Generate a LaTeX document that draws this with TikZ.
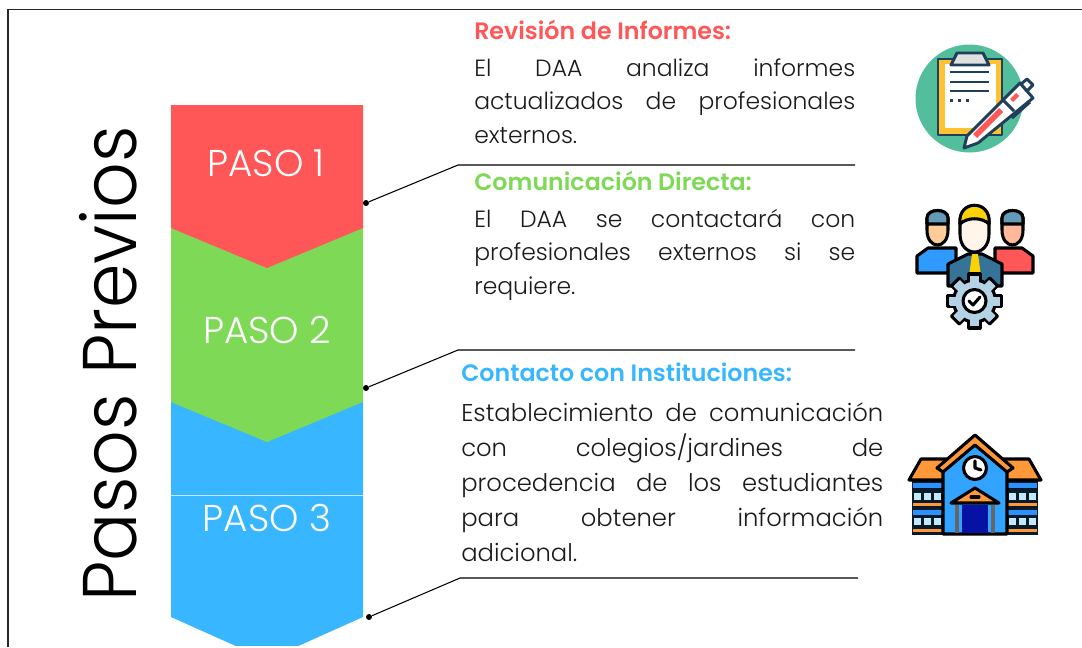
\documentclass[tikz,border=0pt]{standalone}
\usepackage{fontspec}
\setmainfont{Poppins}[BoldFont={* SemiBold}]
\newfontfamily\fina{Poppins Light}
\usepackage{tikz}
\usetikzlibrary{calc}
\definecolor{rojo}{HTML}{FF5757}
\definecolor{verde}{HTML}{7ED957}
\definecolor{azul}{HTML}{38B6FF}
\definecolor{texto}{HTML}{1A1A1A}
\definecolor{marino}{HTML}{1F3F5B}
\definecolor{menta}{HTML}{52BE9B}
\definecolor{naranja}{HTML}{FF9838}
\definecolor{celeste}{HTML}{B4D2E6}
\tikzset{
	paso/.style={text=white, font=\fina\fontsize{28}{30}\selectfont},
	titulo/.style={anchor=north west, inner sep=0pt, font=\fontsize{17.8}{22}\selectfont\bfseries},
	cuerpo/.style={anchor=north west, inner sep=0pt, text=texto, align=justify, font=\fina\fontsize{17.6}{25.2}\selectfont},
	guia/.style={draw=black, line width=0.8pt},
	punto/.style={circle, fill=black, inner sep=0pt, minimum size=4.5pt},
	traza/.style={draw=black, line width=2.3pt, line join=round, line cap=round},
	plano/.style={draw=marino, line width=2.2pt, line join=round},
}
\begin{document}
\begin{tikzpicture}[x=0.75pt, y=-0.75pt]
	\useasboundingbox (0, 0) rectangle (1082, 647);
	\draw[line width=1.4pt, color=black!85] (8, 647)--(8, 9.5)--(1082, 9.5);

	% bloques
	\begin{scope}
		\clip (0, 0) rectangle (1082, 645.5);
		\fill[azul] (171, 400)--(363, 400)--(363, 617)--(267, 660)--(171, 617)--cycle;
	\end{scope}
	\draw[white!70!azul, line width=0.6pt] (171, 495)--(363, 495);
	\fill[verde] (171, 228)--(363, 228)--(363, 402)--(267, 442)--(171, 402)--cycle;
	\fill[rojo] (171, 105)--(363, 105)--(363, 228)--(267, 268)--(171, 228)--cycle;

	\node[paso] (paso1) at (266, 163){PASO 1};
	\node[paso] (paso2) at (267, 330){PASO 2};
	\node[paso] (paso3) at (267, 518){PASO 3};

	\node[rotate=90, xscale=0.94, text=black, font=\fina\fontsize{57}{60}\selectfont] (pasos) at (108, 364){Pasos Previos};

	% guias
	\node[punto] (dot1) at (366, 203){};
	\coordinate (codo1) at (458, 165);
	\coordinate (fin1) at (855, 165);
	\draw[guia] (dot1)--(codo1)--(fin1);
	\node[punto] (dot2) at (366, 388){};
	\coordinate (codo2) at (458, 350);
	\coordinate (fin2) at (855, 350);
	\draw[guia] (dot2)--(codo2)--(fin2);
	\node[punto] (dot3) at (369, 617){};
	\coordinate (codo3) at (460, 578);
	\coordinate (fin3) at (858, 578);
	\draw[guia] (dot3)--(codo3)--(fin3);

	% textos
	\node[titulo, text=rojo] (tit1) at (474, 20){Revisión de Informes:};
	\node[cuerpo, text width=285.75] (txt1) at (474, 58){El DAA analiza informes\linebreak actualizados de profesionales\linebreak externos.};
	\node[titulo, text=verde] (tit2) at (474, 171){Comunicación Directa:};
	\node[cuerpo, text width=285.75] (txt2) at (474, 209){El DAA se contactará con\linebreak profesionales externos si se\linebreak requiere.};
	\node[titulo, text=azul] (tit3) at (461, 363){Contacto con Instituciones:};
	\node[cuerpo, text width=316.5, font=\fina\fontsize{18.2}{26.2}\selectfont] (txt3) at (461, 402.5){Establecimiento de comunicación\linebreak con colegios/jardines de\linebreak procedencia de los estudiantes\linebreak para obtener información\linebreak adicional.};

	% portapapeles
	\fill[menta] (969.5, 98.5) circle (54);
	\fill[orange!60!yellow!80!white] (938, 59) rectangle (1002, 135);
	\fill[white] (945, 64) rectangle (996, 128);
	\draw[plano] (938, 59) rectangle (1002, 135);
	\fill[black!12, plano] (951, 65)--(957, 53)--(983, 53)--(989, 65)--cycle;
	\foreach \y in {72, 82, 91}
		\draw[plano] (950, \y)--(989, \y);
	\foreach \x in {951, 959, 967}
		\fill[marino] (\x-1.5, 98.5) rectangle (\x+1.5, 101.5);
	\fill[white, plano] (964, 148)--(967, 136)--(1020, 83)--(1033, 98)--(978, 143)--cycle;
	\fill[rojo] (973, 134)--(999, 108)--(1003, 112)--(977, 138)--cycle;
	\fill[rojo] (1010, 99)--(1016, 93)--(1019, 96)--(1013, 102)--cycle;
	\draw[plano] (1003, 100)--(1014, 111);
	\draw[plano] (1012, 118)--(1030, 102);
	\fill[white, plano] (1021, 84)--(1027, 79)--(1033, 85)--(1027, 91)--cycle;

	% equipo
	\fill[azul!85!blue, traza] (917, 273)--(917, 256)--(928, 248)--(956, 248)--(956, 273)--cycle;
	\fill[rojo, traza] (995, 248)--(1022, 248)--(1033, 256)--(1033, 273)--(995, 273)--cycle;
	\fill[orange!40!white, traza] (927, 218) .. controls (927, 208) and (948, 208) .. (948, 218)
		-- (948, 230) .. controls (948, 250) and (927, 250) .. (927, 230) -- cycle;
	\fill[red!40!orange!40!white, traza] (1002, 218) .. controls (1002, 208) and (1023, 208) .. (1023, 218)
		-- (1023, 230) .. controls (1023, 250) and (1002, 250) .. (1002, 230) -- cycle;
	\fill[azul!60!black!70!white, traza] (927, 224)--(927, 218) .. controls (927, 208) and (948, 208) .. (948, 218)--(948, 224)--cycle;
	\fill[azul!60!black!70!white, traza] (1002, 224)--(1002, 218) .. controls (1002, 208) and (1023, 208) .. (1023, 218)--(1023, 224)--cycle;
	\fill[azul!55!black!90!white, traza] (948, 286)--(948, 264)--(968, 254)--(982, 254)--(1002, 264)--(1002, 286)--cycle;
	\fill[yellow!70!orange] (972, 254)--(978, 254)--(981, 276)--(969, 276)--cycle;
	\fill[orange!8!white, traza] (960, 222) .. controls (960, 200) and (989, 200) .. (989, 222)
		-- (989, 234) .. controls (989, 258) and (960, 258) .. (960, 234) -- cycle;
	\fill[yellow!70!orange, traza] (960, 224) .. controls (957, 199) and (992, 199) .. (989, 224)
		.. controls (982, 217) and (967, 217) .. (960, 224) -- cycle;
	% engranaje
	\foreach \a in {0, 45, ..., 315}
		\fill[celeste, traza, rotate around={\a:(974.5, 301)}] (969, 274) rectangle (980, 282);
	\fill[celeste, traza] (974.5, 301) circle (21);
	\foreach \a in {0, 45, ..., 315}
		\fill[celeste, rotate around={\a:(974.5, 301)}] (970, 276) rectangle (979, 284);
	\fill[white, traza] (974.5, 301) circle (11.5);
	\draw[traza] (969, 301)--(973, 305)--(980, 297);

	% colegio
	\fill[black!85!azul] (912, 480) rectangle (1038, 535);
	\foreach \x/\w in {913/942, 1008/1037}{
		\fill[azul!80!blue] (\x, 483) rectangle (\w, 488);
		\fill[naranja] (\x, 503) rectangle (\w, 506);
		\fill[azul!80!blue] (\x, 510) rectangle (\w, 515);
		\fill[naranja] (\x, 529) rectangle (\w, 532);
		\foreach \d in {0, 10, 20}{
			\fill[azul!30!white] (\x+\d+1, 493) rectangle (\x+\d+8, 500);
			\fill[azul!30!white] (\x+\d+1, 518) rectangle (\x+\d+8, 525);
		}
	}
	\fill[naranja, traza] (909, 480)--(921, 459)--(1029, 459)--(1041, 480)--cycle;
	\fill[azul!90!blue, traza] (943, 534)--(943, 468)--(975, 445)--(1007, 468)--(1007, 534)--cycle;
	\fill[naranja, traza] (937, 468)--(975, 435)--(1013, 468)--(1007, 472)--(975, 445)--(943, 472)--cycle;
	\fill[white, traza] (975, 468) circle (11.5);
	\draw[traza] (975, 461)--(975, 468)--(981, 470);
	\fill[blue!60!black!90!azul] (962, 505) rectangle (988, 533);
	\draw[black!60, line width=2.5pt] (957, 505)--(957, 533);
	\draw[black!60, line width=2.5pt] (993, 505)--(993, 533);
	\fill[naranja, traza] (951, 503)--(975, 488)--(999, 503)--cycle;
	\draw[traza] (971, 497)--(979, 497);
\end{tikzpicture}
\end{document}
